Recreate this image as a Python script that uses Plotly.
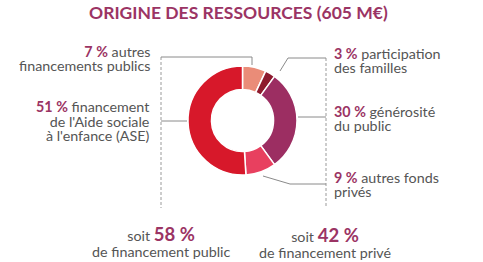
import plotly.graph_objects as go

# ---- data ----
categories = ["autres financements publics", "participation des familles",
              "générosité du public", "autres fonds privés",
              "financement de l'Aide sociale à l'enfance (ASE)"]
values = [7, 3, 30, 9, 51]
slice_colors = ["#EA8C78", "#8E1B2E", "#9C2E62", "#E8405F", "#D7182A"]
public_share = 58
private_share = 42
title_text = "ORIGINE DES RESSOURCES (605 M€)"

W, H = 483, 262
ACC = "#9B3464"
GRAY = "#555555"
LINE = "#8a8a8a"
FONT = "Lato"
FS = 14.3

fig = go.Figure()

cx, cy, r = 242.5, 120.5, 54.5
fig.add_trace(go.Pie(
    labels=categories, values=values, sort=False, direction="clockwise",
    rotation=0, hole=0.57, textinfo="none", hoverinfo="label+percent",
    marker=dict(colors=slice_colors, line=dict(color="white", width=1.5)),
    domain=dict(x=[(cx - r) / W, (cx + r) / W], y=[1 - (cy + r) / H, 1 - (cy - r) / H]),
    showlegend=False,
))

def pct(v, size=FS):
    return f"<b><span style='color:{ACC};font-size:{size}px'>{v}\u202f%</span></b>"

def sz(s, size=FS):
    return f"<span style='font-size:{size}px'>{s}</span>"

ann = []
def block(x, y, lines, align="left", spacing=14, color=GRAY, bigsize=FS):
    # base font size sets the line spacing (plotly uses 1.3em between lines)
    base = spacing / 1.3
    ann.append(dict(x=x, y=y, xref="x", yref="y",
                    text="<br>".join(lines), showarrow=False,
                    xanchor=align, yanchor="middle", align=align,
                    font=dict(family=FONT, size=base, color=color)))

# title
ann.append(dict(x=238, y=12, xref="x", yref="y", text=f"<b>{title_text}</b>",
                showarrow=False, xanchor="center", yanchor="middle",
                font=dict(family=FONT, size=17.5, color=ACC)))

# left labels
block(152, 58, [f"{pct(values[0])}{sz(' autres')}", sz("financements publics")], "right")
block(152, 120.5, [f"{pct(values[4])}{sz(' financement')}", sz("de l'Aide sociale"),
                   sz("à l'enfance (ASE)")], "right", spacing=14.5)

# right labels
block(332, 60, [f"{pct(values[1])}{sz(' participation')}", sz("des familles")], "left")
block(332, 118, [f"{pct(values[2])}{sz(' générosité')}", sz("du public")], "left")
block(332, 184, [f"{pct(values[3])}{sz(' autres fonds')}", sz("privés")], "left")

# bottom
block(161, 241, [f"{sz('soit ')}{pct(public_share, 18.5)}", sz("de financement public")],
      "center", spacing=16)
block(325, 242, [f"{sz('soit ')}{pct(private_share, 18.5)}", sz("de financement privé")],
      "center", spacing=16)

shapes = []
def seg(x0, y0, x1, y1, dash="solid", color=LINE):
    shapes.append(dict(type="line", xref="x", yref="y", x0=x0, y0=y0, x1=x1, y1=y1,
                       line=dict(color=color, width=1, dash=dash)))

# dashed separators
seg(161, 57, 161, 208, "3px,2px", "#9a9a9a")
seg(326, 58, 326, 208, "3px,2px", "#9a9a9a")
# leaders
seg(161, 57, 252, 57); seg(252, 57, 252, 65)
seg(161, 121, 187, 121)
seg(288, 58, 326, 58); seg(288, 58, 280, 71)
seg(298, 117, 326, 117)
seg(263, 176, 290, 184); seg(290, 184, 326, 184)

fig.update_layout(
    width=W, height=H, margin=dict(l=0, r=0, t=0, b=0),
    paper_bgcolor="white", plot_bgcolor="rgba(0,0,0,0)",
    xaxis=dict(range=[0, W], visible=False, fixedrange=True),
    yaxis=dict(range=[H, 0], visible=False, fixedrange=True),
    annotations=ann, shapes=shapes,
)

fig.write_html("out.html")
